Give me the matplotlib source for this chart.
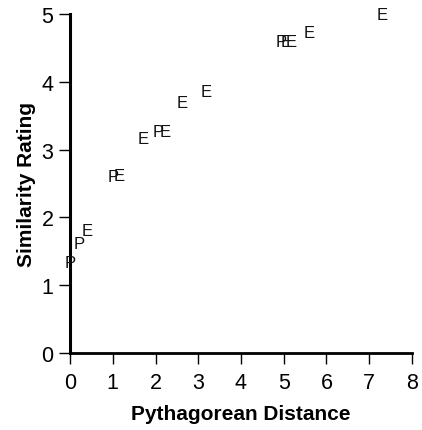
import matplotlib
matplotlib.use("Agg")
import matplotlib.pyplot as plt

plt.rcParams['font.family'] = ['Liberation Sans', 'DejaVu Sans']

# Data: (distance, rating, label)
distance = [0.0, 0.21, 0.40, 1.00, 1.15, 1.71, 2.06, 2.22, 2.62, 3.18, 4.93, 5.05, 5.17, 5.59, 7.30]
rating   = [1.33, 1.62, 1.81, 2.61, 2.62, 3.16, 3.27, 3.27, 3.70, 3.86, 4.59, 4.60, 4.60, 4.73, 5.00]
labels   = ['P', 'P', 'E', 'P', 'E', 'E', 'P', 'E', 'E', 'E', 'P', 'E', 'E', 'E', 'E']

xticks = [0, 1, 2, 3, 4, 5, 6, 7, 8]
yticks = [0, 1, 2, 3, 4, 5]

fig = plt.figure(figsize=(4.22, 4.31), dpi=100)
ax = fig.add_axes([0.166, 0.179, 0.810, 0.786])

for x, y, t in zip(distance, rating, labels):
    ax.text(x, y, t, ha='center', va='center', fontsize=12, color='#111111', clip_on=False)

ax.set_xlim(0, 8)
ax.set_ylim(0, 5)
ax.set_xticks(xticks)
ax.set_yticks(yticks)
ax.spines['top'].set_visible(False)
ax.spines['right'].set_visible(False)
ax.spines['left'].set_linewidth(2.2)
ax.spines['bottom'].set_linewidth(2.0)
ax.tick_params(axis='both', direction='out', length=8, width=1.0, labelsize=15.5, pad=4)
ax.tick_params(axis='x', pad=6)
ax.set_xlabel('Pythagorean Distance', fontsize=15, fontweight='bold', labelpad=8)
ax.set_ylabel('Similarity Rating', fontsize=15, fontweight='bold', labelpad=4)

fig.savefig('out.png', dpi=100)
